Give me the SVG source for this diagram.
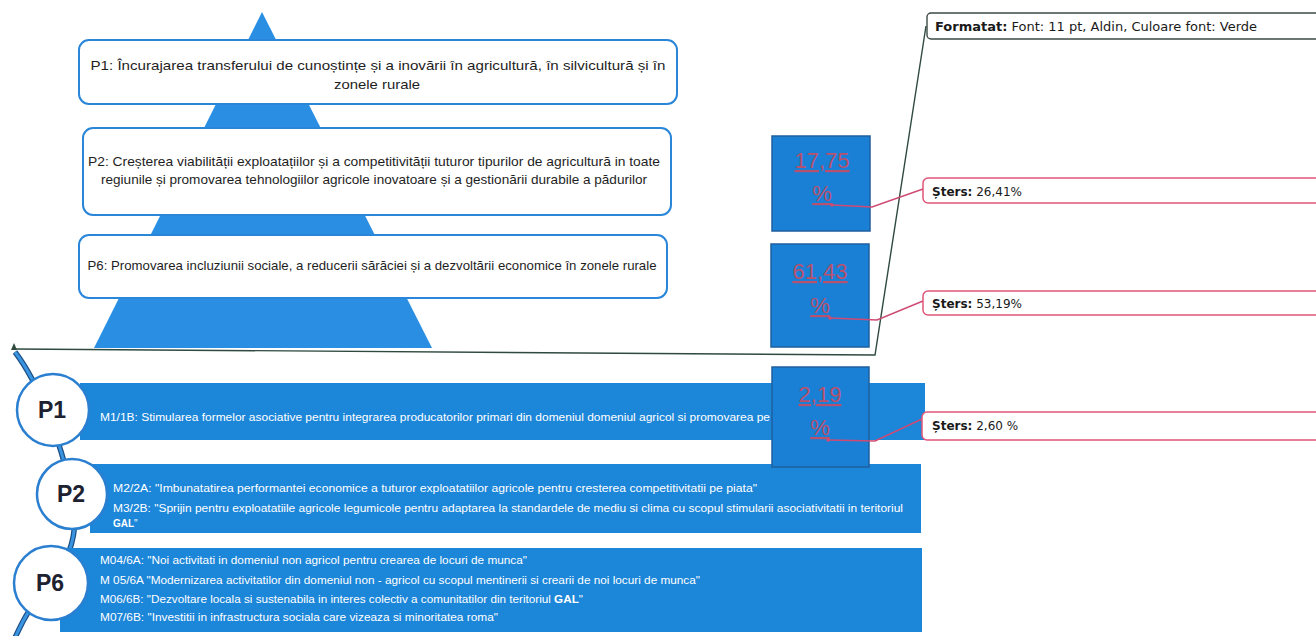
<svg xmlns="http://www.w3.org/2000/svg" width="1316" height="636" viewBox="0 0 1316 636">
<style>
.pbox{fill:#ffffff;stroke:#2a86d8;stroke-width:2}
.ptxt{font-family:"Liberation Sans",Arial,sans-serif;font-size:13.5px;fill:#1e1e1e;text-anchor:middle}
.pct{fill:#1a80d6;stroke:#1f5f9e;stroke-width:1.5}
.pcttxt{font-family:"Liberation Sans",Arial,sans-serif;font-size:22px;fill:#b8516d;text-anchor:middle;text-decoration:underline}
.bar{fill:#1c86d9}
.btxt{font-family:"Liberation Sans",Arial,sans-serif;font-size:10px;fill:#ffffff}
.circ{fill:#ffffff;stroke:#2a7fd0;stroke-width:2.5}
.ctxt{font-family:"Liberation Sans",Arial,sans-serif;font-size:23px;font-weight:bold;fill:#1e2230;text-anchor:middle}
.cmt{fill:#ffffff;stroke:#e0557a;stroke-width:1.5}
.ctext{font-family:"DejaVu Sans",Verdana,sans-serif;font-size:12px;fill:#1a1a1a}
.red{fill:none;stroke:#cf4a72;stroke-width:1.4}
</style>
<rect width="1316" height="636" fill="#ffffff"/>

<g id="pyramid">
<polygon points="262,12 94,348 432,348" fill="#2a8ee2"/>
</g>

<g id="connectors">
<path d="M15,352 C40,385 60,440 72,493 C80,530 70,560 50,582 C35,600 25,615 14,640" fill="none" stroke="#1d4f86" stroke-width="5.5"/>
<path d="M15,352 C40,385 60,440 72,493 C80,530 70,560 50,582 C35,600 25,615 14,640" fill="none" stroke="#3a95e0" stroke-width="3"/>
<polyline points="926,26 875,355 15,349" fill="none" stroke="#2f4a3e" stroke-width="1.4"/>
<polygon points="11,350 14,343 17,350" fill="#2f4a3e"/>
</g>

<g id="p1-box">
<rect class="pbox" x="79" y="40" width="598" height="64" rx="10"/>
<text class="ptxt" x="378" y="70" textLength="575" lengthAdjust="spacingAndGlyphs">P1: Încurajarea transferului de cunoștințe și a inovării în agricultură, în silvicultură și în</text>
<text class="ptxt" x="377" y="89" textLength="86" lengthAdjust="spacingAndGlyphs">zonele rurale</text>
</g>

<g id="p2-box">
<rect class="pbox" x="83" y="128" width="588" height="87" rx="10"/>
<text class="ptxt" x="374" y="166" textLength="572" lengthAdjust="spacingAndGlyphs">P2: Creșterea viabilității exploatațiilor și a competitivității tuturor tipurilor de agricultură in toate</text>
<text class="ptxt" x="374" y="184" textLength="546" lengthAdjust="spacingAndGlyphs">regiunile și promovarea tehnologiilor agricole inovatoare și a gestionării durabile a pădurilor</text>
</g>

<g id="p6-box">
<rect class="pbox" x="79" y="235" width="588" height="63" rx="10"/>
<text class="ptxt" x="372" y="270" textLength="569" lengthAdjust="spacingAndGlyphs">P6: Promovarea incluziunii sociale, a reducerii sărăciei și a dezvoltării economice în zonele rurale</text>
</g>

<g id="p1-bar">
<rect class="bar" x="80" y="383" width="845" height="57"/>
<text class="btxt" x="100" y="421" textLength="670" lengthAdjust="spacingAndGlyphs">M1/1B: Stimularea formelor asociative pentru integrarea producatorilor primari din domeniul domeniul agricol  si promovarea pe</text>
</g>

<g id="p2-bar">
<rect class="bar" x="90" y="464" width="831" height="69"/>
<text class="btxt" x="113" y="492" textLength="644" lengthAdjust="spacingAndGlyphs">M2/2A: "Imbunatatirea performantei economice a tuturor exploatatiilor agricole pentru cresterea competitivitatii pe piata"</text>
<text class="btxt" x="113" y="512" textLength="790" lengthAdjust="spacingAndGlyphs">M3/2B: "Sprijin pentru exploatatiile agricole legumicole pentru adaptarea la standardele de mediu si clima cu scopul stimularii asociativitatii in teritoriul</text>
<text class="btxt" x="113" y="527"><tspan font-weight="bold">GAL</tspan>"</text>
</g>

<g id="p6-bar">
<rect class="bar" x="60" y="548" width="862" height="84"/>
<text class="btxt" x="100" y="564" textLength="427" lengthAdjust="spacingAndGlyphs">M04/6A: "Noi activitati in domeniul non agricol pentru crearea de locuri de munca"</text>
<text class="btxt" x="100" y="584" textLength="600" lengthAdjust="spacingAndGlyphs">M 05/6A "Modernizarea activitatilor din domeniul non - agricol cu scopul mentinerii si crearii de noi locuri de munca"</text>
<text class="btxt" x="100" y="603" textLength="483" lengthAdjust="spacingAndGlyphs">M06/6B: "Dezvoltare locala si sustenabila in interes colectiv a comunitatilor din teritoriul <tspan font-weight="bold">GAL</tspan>"</text>
<text class="btxt" x="100" y="621" textLength="398" lengthAdjust="spacingAndGlyphs">M07/6B: "Investitii in infrastructura sociala care vizeaza si minoritatea roma"</text>
</g>

<g id="circle-p1">
<circle class="circ" cx="53" cy="410" r="36"/>
<text class="ctxt" x="52" y="418">P1</text>
</g>
<g id="circle-p2">
<circle class="circ" cx="72" cy="494" r="35"/>
<text class="ctxt" x="71" y="502">P2</text>
</g>
<g id="circle-p6">
<circle class="circ" cx="51" cy="583" r="37"/>
<text class="ctxt" x="50" y="591">P6</text>
</g>

<g id="pct-1775">
<rect class="pct" x="772" y="136" width="98" height="95"/>
<text class="pcttxt" x="822" y="168">17,75</text>
<text class="pcttxt" x="822" y="201">%</text>
</g>
<g id="pct-6143">
<rect class="pct" x="771" y="244" width="98" height="103"/>
<text class="pcttxt" x="820" y="279">61,43</text>
<text class="pcttxt" x="820" y="313">%</text>
</g>
<g id="pct-219">
<rect class="pct" x="772" y="367" width="97" height="100"/>
<text class="pcttxt" x="820" y="402">2,19</text>
<text class="pcttxt" x="820" y="435">%</text>
</g>

<g id="comment-links">
<polyline class="red" points="832,205 872,207 923,189"/>
<circle cx="832" cy="205" r="1.8" fill="#cf4a72"/>
<polyline class="red" points="830,318 877,320 923,301"/>
<circle cx="830" cy="318" r="1.8" fill="#cf4a72"/>
<polyline class="red" points="828,440 875,441 922,419"/>
<circle cx="828" cy="440" r="1.8" fill="#cf4a72"/>
</g>

<g id="comment-formatat">
<rect x="927" y="13" width="420" height="26" rx="4" fill="#ffffff" stroke="#3c4a44" stroke-width="1.4"/>
<text class="ctext" x="935" y="31" textLength="322" lengthAdjust="spacingAndGlyphs"><tspan font-weight="bold">Formatat:</tspan> Font: 11 pt, Aldin, Culoare font: Verde</text>
</g>
<g id="comment-2641">
<rect class="cmt" x="923" y="178" width="420" height="25" rx="5"/>
<text class="ctext" x="932" y="196"><tspan font-weight="bold">Șters:</tspan> 26,41%</text>
</g>
<g id="comment-5319">
<rect class="cmt" x="923" y="291" width="420" height="24" rx="5"/>
<text class="ctext" x="932" y="308"><tspan font-weight="bold">Șters:</tspan> 53,19%</text>
</g>
<g id="comment-260">
<rect class="cmt" x="922" y="412" width="420" height="28" rx="5"/>
<text class="ctext" x="932" y="430"><tspan font-weight="bold">Șters:</tspan> 2,60 %</text>
</g>
</svg>
